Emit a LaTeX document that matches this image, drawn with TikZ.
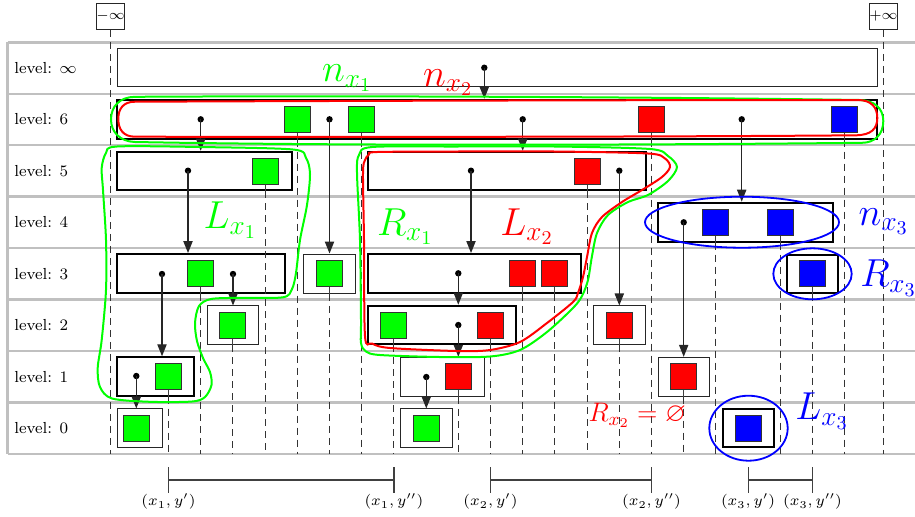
\RequirePackage{fix-cm}
\documentclass[tikz,border=0pt]{standalone}
\usepackage{amssymb}
\usetikzlibrary{arrows.meta,shapes.geometric}
\definecolor{kgreen}{RGB}{0,255,0}
\definecolor{kred}{RGB}{255,0,0}
\definecolor{kblue}{RGB}{0,0,255}
\definecolor{gridgray}{RGB}{192,192,192}
\begin{document}
\begin{tikzpicture}[x=0.5pt,y=-0.5pt,
  gridline/.style={draw=gridgray,line width=1.2pt},
  lvl/.style={anchor=west,inner sep=0pt,font=\footnotesize},
  thickbox/.style={draw=black,line width=1pt,inner sep=0pt},
  thinbox/.style={draw=black!85,line width=0.5pt,inner sep=0pt},
  key/.style={draw=black!80,line width=0.5pt,minimum size=13pt,inner sep=0pt},
  gkey/.style={key,fill=kgreen},
  rkey/.style={key,fill=kred},
  bkey/.style={key,fill=kblue},
  ptrdot/.style={circle,fill=black,inner sep=0pt,minimum size=3.2pt},
  ptr/.style={draw=black!85,line width=0.65pt,-{Triangle[length=6pt,width=4.6pt]}},
  stem/.style={draw=black!75,line width=0.5pt},
  dashline/.style={draw=black!80,line width=0.5pt,dash pattern=on 3.5pt off 2.5pt},
  inftybox/.style={draw=black!85,line width=0.5pt,minimum size=13pt,inner sep=0pt,font=\scriptsize},
  biglab/.style={inner sep=0pt,anchor=base west,font=\fontsize{19.5}{23}\selectfont},
  coordlab/.style={inner sep=0pt,font=\fontsize{7.5}{9}\selectfont},
  brk/.style={draw=black!75,line width=0.6pt},
  blob/.style={line width=1pt},
  blueell/.style={ellipse,draw=kblue,line width=0.9pt,inner sep=0pt},
]
\useasboundingbox (0,0) rectangle (915,516);

% grid
\foreach \yy in {42.3,93.7,145,196.5,248,299.5,351,402.5,454}
  \draw[gridline] (7.5,\yy) -- (925,\yy);
\draw[gridline] (7.5,42.3) -- (7.5,454);

% level labels
\node[lvl] (lvinf) at (14,68) {level: $\infty$};
\node[lvl] (lv6) at (14,119.35) {level: 6};
\node[lvl] (lv5) at (14,170.75) {level: 5};
\node[lvl] (lv4) at (14,222.25) {level: 4};
\node[lvl] (lv3) at (14,273.75) {level: 3};
\node[lvl] (lv2) at (14,325.25) {level: 2};
\node[lvl] (lv1) at (14,376.75) {level: 1};
\node[lvl] (lv0) at (14,428.25) {level: 0};

\coordinate (bot) at (0,454);

% infinity sentinels
\node[inftybox] (minf) at (110.7,16.3) {$-\infty$};
\node[inftybox] (pinfty) at (883.5,16.3) {$+\infty$};
\draw[dashline] (minf.south) -- (minf.south |- bot);
\draw[dashline] (pinfty.south) -- (pinfty.south |- bot);

% boxes
\node[thinbox,minimum width=380.15pt,minimum height=19.15pt] (Linf) at (497.2,67.8) {};
\node[thickbox,minimum width=380pt,minimum height=19.5pt] (L6) at (497,119.2) {};
\node[thickbox,minimum width=87.5pt,minimum height=19.3pt] (A5) at (204.2,171) {};
\node[thickbox,minimum width=138.7pt,minimum height=19.3pt] (B5) at (507,171) {};
\node[thickbox,minimum width=87.35pt,minimum height=19.5pt] (C4) at (745.3,222.2) {};
\node[thickbox,minimum width=84pt,minimum height=19.65pt] (A3) at (200.7,273.7) {};
\node[thinbox,minimum width=25.85pt,minimum height=19.65pt] (S3) at (329.8,273.7) {};
\node[thickbox,minimum width=106.35pt,minimum height=19.65pt] (B3) at (474.7,273.7) {};
\node[thickbox,minimum width=25.5pt,minimum height=18.85pt] (R3) at (812.8,273.8) {};
\node[thinbox,minimum width=25.85pt,minimum height=19.35pt] (S2) at (233.1,325.3) {};
\node[thickbox,minimum width=74pt,minimum height=19.3pt] (B2) at (442.3,325) {};
\node[thinbox,minimum width=25.8pt,minimum height=19.35pt] (S2r) at (619.5,325.3) {};
\node[thickbox,minimum width=38.65pt,minimum height=19.2pt] (A1) at (155.7,376.5) {};
\node[thinbox,minimum width=42pt,minimum height=19.5pt] (B1) at (442.3,376.8) {};
\node[thinbox,minimum width=25.7pt,minimum height=19.35pt] (S1r) at (684,376.7) {};
\node[thinbox,minimum width=22.65pt,minimum height=19.35pt] (A0) at (139.7,428.3) {};
\node[thinbox,minimum width=26pt,minimum height=19.35pt] (B0) at (426.3,428.3) {};
\node[thickbox,minimum width=25.8pt,minimum height=19.15pt] (L0) at (748.5,428.2) {};

% keys
\node[gkey] (k4) at (297.3,119.2) {};
\node[gkey] (k6) at (361.7,119.2) {};
\node[rkey] (k15) at (651.5,119.2) {};
\node[bkey] (k21) at (844.7,119.2) {};
\node[gkey] (k3) at (265.1,171) {};
\node[rkey] (k13) at (587.1,171) {};
\node[bkey] (k17) at (715.9,222.2) {};
\node[bkey] (k19) at (780.3,222.2) {};
\node[gkey] (k1) at (200.7,273.7) {};
\node[gkey] (k5) at (329.5,273.7) {};
\node[rkey] (k11) at (522.7,273.7) {};
\node[rkey] (k12) at (554.9,273.7) {};
\node[bkey] (k20) at (812.5,273.8) {};
\node[gkey] (k2) at (232.9,325.3) {};
\node[gkey] (k7) at (393.9,325) {};
\node[rkey] (k10) at (490.5,325) {};
\node[rkey] (k14) at (619.3,325.3) {};
\node[gkey] (k0) at (168.5,376.5) {};
\node[rkey] (k9) at (458.3,376.8) {};
\node[rkey] (k16) at (683.7,376.7) {};
\node[gkey] (km) at (136.2,428.3) {};
\node[gkey] (k8) at (426.1,428.3) {};
\node[bkey] (k18) at (748.1,428.2) {};

% stems and dashed key lines
\foreach \k/\b in {k4/L6,k6/L6,k15/L6,k21/L6,k3/A5,k13/B5,k17/C4,k19/C4,k1/A3,k5/S3,k11/B3,k12/B3,k20/R3,k2/S2,k7/B2,k10/B2,k14/S2r,k0/A1,k9/B1,k16/S1r}{
  \draw[stem] (\k.south) -- (\k.south |- \b.south);
  \draw[dashline] (\k.south |- \b.south) -- (\k.south |- bot);
}

% pointers
\node[ptrdot] (pinf) at (484.3,67.7) {};
\node[ptrdot] (p6a) at (200.7,119.3) {};
\node[ptrdot] (p6b) at (329.5,119.3) {};
\node[ptrdot] (p6c) at (522.7,119.3) {};
\node[ptrdot] (p6d) at (741.7,119.3) {};
\node[ptrdot] (p5a) at (188,170.7) {};
\node[ptrdot] (p5b) at (471,170.7) {};
\node[ptrdot] (p5c) at (619.3,170.7) {};
\node[ptrdot] (p4) at (683.7,222.3) {};
\node[ptrdot] (p3a) at (162,274) {};
\node[ptrdot] (p3b) at (233,274) {};
\node[ptrdot] (p3c) at (458.3,273.3) {};
\node[ptrdot] (p2) at (458.3,325) {};
\node[ptrdot] (p1a) at (136.3,376) {};
\node[ptrdot] (p1b) at (426.3,377) {};
\foreach \p/\b in {pinf/L6,p6a/A5,p6b/S3,p6c/B5,p6d/C4,p5a/A3,p5b/B3,p5c/S2r,p4/S1r,p3a/A1,p3b/S2,p3c/B2,p2/B1,p1a/A0,p1b/B0}
  \draw[ptr] (\p.center) -- (\p.center |- \b.north);

% green n_x1 outline
\draw[kgreen,blob] (135,96.8) .. controls (350,95.5) and (650,97) .. (860,100)
 .. controls (874,100.5) and (883.3,108) .. (883.3,121)
 .. controls (883.3,134) and (875,142.8) .. (862,142.8)
 .. controls (650,145) and (350,146) .. (135,142)
 .. controls (120,141.5) and (111,132) .. (111,119.5)
 .. controls (111,106) and (120,97) .. (135,96.8) -- cycle;
% red n_x2 outline
\draw[kred,blob] (135,101.7) .. controls (350,100.8) and (650,100) .. (858,100)
 .. controls (871,100) and (877.3,107) .. (877.3,118)
 .. controls (877.3,129) and (871,135) .. (856,135.3)
 .. controls (650,137) and (350,137) .. (135,136.7)
 .. controls (123,136.7) and (118.3,129) .. (118.3,119)
 .. controls (118.3,109) and (123,101.7) .. (135,101.7) -- cycle;

% L_x1 outline
\draw[kgreen,blob] plot[smooth cycle] coordinates {
 (117,146.5) (200,147) (293,149.5) (306,158) (310,174) (307,205) (300,240) (296,273)
 (292,289) (283,297.3) (240,297.8) (211,299) (199,306) (195,323) (197,341) (203,358)
 (210,372) (211.5,385) (205,397) (192,401.5) (150,401.8) (112,398.5) (100,387) (97.7,368)
 (101.7,340) (106,290) (106,240) (103,190) (101.7,168) (106,153)};
% R_x1 outline
\draw[kgreen,blob] plot[smooth cycle] coordinates {
 (372,147) (455,146.5) (555,146.5) (650,149) (668,156) (677,167) (668,181) (648,195)
 (628,202) (608,215) (597,233) (592,256) (588,280) (582,296) (573,308) (547,332)
 (520,350) (490,356.5) (440,357) (380,355) (366,351.5) (361,343) (361,320) (360,240)
 (357,173) (359,155)};
% L_x2 outline
\draw[kred,blob] plot[smooth cycle] coordinates {
 (377,152) (455,151.5) (555,151.5) (648,153.5) (665,158.5) (670,167) (662,177) (642,190)
 (622,202) (602,217) (592,233) (587,257) (583,277) (578,293) (573,302) (547,323)
 (520,342) (490,350) (457,351) (390,348) (372,343.5) (365,336) (364,240) (363,173)
 (365,160) (369,154.5)};

% blue ellipses
\node[blueell,minimum width=97pt,minimum height=25.5pt] (En3) at (742,222.2) {};
\node[blueell,minimum width=39.2pt,minimum height=25.5pt] (ER3) at (812.5,273.8) {};
\node[blueell,minimum width=39.2pt,minimum height=32.5pt] (EL3) at (748.5,428.2) {};

% labels
\node[biglab,text=kgreen] (lnx1) at (321.7,81.7) {$n_{x_1}$};
\node[biglab,text=kred] (lnx2) at (422.7,86) {$n_{x_2}$};
\node[biglab,text=kgreen] (llx1) at (203.3,228.3) {$L_{x_1}$};
\node[biglab,text=kgreen] (lrx1) at (376.7,235) {$R_{x_1}$};
\node[biglab,text=kred] (llx2) at (500,235) {$L_{x_2}$};
\node[biglab,text=kblue] (lnx3) at (858.3,225) {$n_{x_3}$};
\node[biglab,text=kblue] (lrx3) at (860,286.7) {$R_{x_3}$};
\node[biglab,text=kblue] (llx3) at (795,419.3) {$L_{x_3}$};
\node[inner sep=0pt,anchor=base west,text=kred,font=\fontsize{13.4}{16}\selectfont] (rx2) at (588.3,421.7) {$R_{x_2}=\varnothing$};

% bottom ranges
\coordinate (tt) at (0,467.3);
\coordinate (tb) at (0,493.3);
\coordinate (tm) at (0,480);
\coordinate (lab) at (0,501.7);
\foreach \a/\b in {k0/k7,k10/k15,k18/k20}{
  \draw[brk] (\a |- tt) -- (\a |- tb);
  \draw[brk] (\b |- tt) -- (\b |- tb);
  \draw[brk] (\a |- tm) -- (\b |- tm);
}
\node[coordlab] (c1a) at (k0 |- lab) {$(x_1,y')$};
\node[coordlab] (c1b) at (k7 |- lab) {$(x_1,y'')$};
\node[coordlab] (c2a) at (k10 |- lab) {$(x_2,y')$};
\node[coordlab] (c2b) at (k15 |- lab) {$(x_2,y'')$};
\node[coordlab] (c3a) at (k18 |- lab) {$(x_3,y')$};
\node[coordlab] (c3b) at (k20 |- lab) {$(x_3,y'')$};
\end{tikzpicture}
\end{document}
